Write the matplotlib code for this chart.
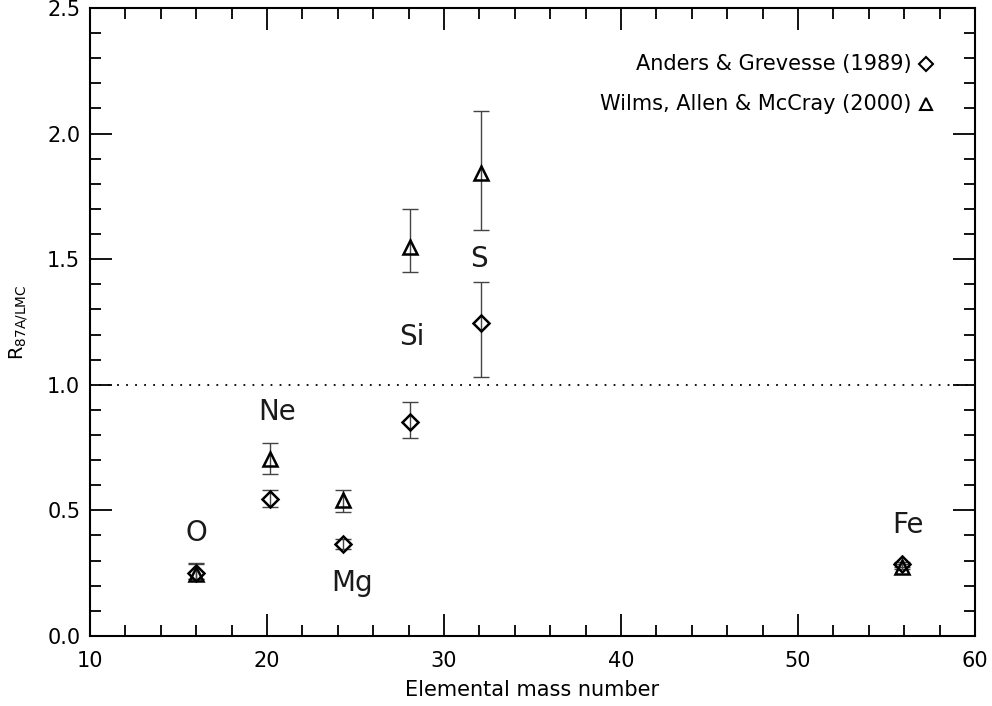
import numpy as np
import matplotlib.pyplot as plt
from matplotlib.ticker import MultipleLocator

# mass numbers of the elements
mass = [16.0, 20.18, 24.31, 28.09, 32.07, 55.85]
names = ["O", "Ne", "Mg", "Si", "S", "Fe"]

# Anders & Grevesse (1989)
ag_val = [0.25, 0.545, 0.365, 0.85, 1.245, 0.285]
ag_lo = [0.025, 0.03, 0.02, 0.06, 0.215, 0.01]
ag_hi = [0.035, 0.035, 0.02, 0.08, 0.165, 0.01]

# Wilms, Allen & McCray (2000)
wam_val = [0.245, 0.705, 0.54, 1.55, 1.845, 0.275]
wam_lo = [0.02, 0.06, 0.045, 0.10, 0.23, 0.01]
wam_hi = [0.045, 0.065, 0.04, 0.15, 0.245, 0.01]

# label positions (data coords)
lab_x = [16.0, 20.6, 24.8, 28.2, 32.0, 56.2]
lab_y = [0.41, 0.89, 0.21, 1.19, 1.50, 0.44]

plt.rcParams['font.family'] = ['DejaVu Sans']

fig = plt.figure(figsize=(9.92, 7.06), dpi=100)
ax = fig.add_axes([0.0907, 0.0992, 0.8922, 0.8895])

ax.errorbar(mass, ag_val, yerr=[ag_lo, ag_hi], fmt='none', ecolor='#444444',
            elinewidth=1.0, capsize=6, capthick=1.0, zorder=2)
ax.errorbar(mass, wam_val, yerr=[wam_lo, wam_hi], fmt='none', ecolor='#444444',
            elinewidth=1.0, capsize=6, capthick=1.0, zorder=2)
ax.plot(mass, ag_val, linestyle='none', marker='D', markersize=8,
        markerfacecolor='none', markeredgecolor='black', markeredgewidth=1.8, zorder=3)
ax.plot(mass, wam_val, linestyle='none', marker='^', markersize=10,
        markerfacecolor='none', markeredgecolor='black', markeredgewidth=1.8, zorder=3)

ax.axhline(1.0, color='black', linestyle=(0, (1, 4)), linewidth=1.3)

for x, y, s in zip(lab_x, lab_y, names):
    ax.text(x, y, s, ha='center', va='center', fontsize=20, color='#1a1a1a')

# legend drawn like IDL: text then symbol
ax.text(0.928, 0.911, "Anders & Grevesse (1989)", transform=ax.transAxes,
        ha='right', va='center', fontsize=15)
ax.plot([0.945], [0.911], transform=ax.transAxes, marker='D', markersize=7,
        markerfacecolor='none', markeredgecolor='black', markeredgewidth=1.5)
ax.text(0.928, 0.8475, "Wilms, Allen & McCray (2000)", transform=ax.transAxes,
        ha='right', va='center', fontsize=15)
ax.plot([0.945], [0.8475], transform=ax.transAxes, marker='^', markersize=9,
        markerfacecolor='none', markeredgecolor='black', markeredgewidth=1.5)

ax.set_xlim(10, 60)
ax.set_ylim(0, 2.5)
ax.xaxis.set_major_locator(MultipleLocator(10))
ax.xaxis.set_minor_locator(MultipleLocator(2))
ax.yaxis.set_major_locator(MultipleLocator(0.5))
ax.yaxis.set_minor_locator(MultipleLocator(0.1))
ax.yaxis.set_major_formatter(plt.FormatStrFormatter('%.1f'))
ax.tick_params(which='both', direction='in', top=True, right=True, labelsize=15, width=1.3)
ax.tick_params(which='major', length=16)
ax.tick_params(axis='x', which='major', pad=11)
ax.tick_params(axis='y', which='major', pad=7)
ax.tick_params(which='minor', length=8)
for sp in ax.spines.values():
    sp.set_linewidth(1.5)

ax.set_xlabel("Elemental mass number", fontsize=15, labelpad=6)
ax.set_ylabel(r"R$_{\mathregular{87A/LMC}}$", fontsize=14, labelpad=12)

fig.savefig("out.png", dpi=100)
